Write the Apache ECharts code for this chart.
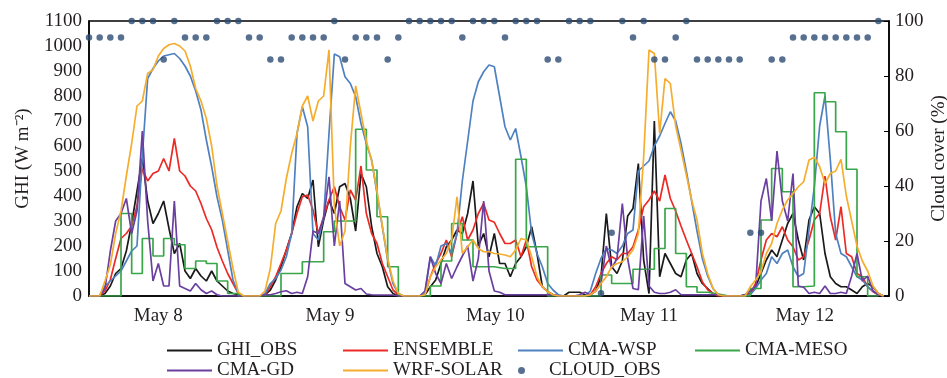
<!DOCTYPE html>
<html>
<head>
<meta charset="utf-8">
<script src="https://cdn.jsdelivr.net/npm/echarts@6/dist/echarts.min.js"></script>
<style>
html, body { margin: 0; padding: 0; background: #fff; }
#chart { width: 947px; height: 378px; }
</style>
</head>
<body>
<div id="chart"></div>
<script>
// x axis = hours counted from the start of the May 8 window (15 h shown per day)
var dayNames = ['May 8', 'May 9', 'May 10', 'May 11', 'May 12'];
var dayTicks = [6.5, 22.6, 38.1, 52.5, 67.1];

// half-hourly GHI, one line per day (W m-2)
var ghiObs = [
  0,0,0,10,40,90,110,180,290,420,550,380,290,330,380,270,170,210,100,70,110,80,60,100,60,40,20,10,5,0,
  0,0,0,5,24,64,117,184,250,357,410,390,464,197,304,384,330,437,450,390,260,490,437,277,170,117,37,10,0,0,
  0,0,0,5,37,64,130,197,224,264,250,330,460,200,250,157,250,130,130,77,130,157,197,277,170,37,17,5,0,0,
  15,15,15,5,5,20,77,330,117,90,140,320,350,530,144,10,700,77,170,130,90,77,144,170,90,50,30,10,5,0,
  0,0,0,5,10,37,90,144,184,157,224,290,330,224,144,304,357,330,170,77,50,37,37,24,10,37,50,37,10,0
];
var ensemble = [
  0,0,0,20,65,150,230,250,280,360,510,460,490,500,550,500,630,500,480,440,420,370,310,265,195,140,90,50,10,0,
  0,0,0,5,37,77,130,184,250,330,397,404,344,250,317,384,437,357,304,424,384,520,330,250,210,130,77,24,5,0,
  0,0,0,5,77,130,170,224,157,250,317,224,264,330,370,304,295,250,210,210,224,157,224,117,64,37,17,5,0,0,
  0,0,0,0,5,37,90,130,157,145,170,170,197,264,357,384,420,380,484,390,340,280,224,170,117,57,25,10,0,0,
  0,0,0,0,10,50,144,224,250,237,277,224,197,144,157,224,304,330,480,317,224,357,170,157,90,77,37,17,5,0
];
var cmaWsp = [
  0,0,0,40,60,80,100,140,180,200,560,870,910,940,960,965,970,950,920,880,820,744,624,517,397,304,184,64,10,0,
  0,0,0,10,50,70,104,157,250,650,757,677,250,224,317,650,968,957,877,850,797,690,610,544,410,277,144,50,10,0,
  0,0,0,10,157,120,200,210,170,250,460,620,780,857,897,924,917,797,677,624,670,557,437,250,170,117,50,24,5,0,
  0,0,0,0,20,90,150,190,184,170,200,250,264,500,520,540,600,640,690,737,700,610,500,380,260,150,80,30,5,0,
  0,0,0,0,5,30,64,90,157,130,170,184,117,77,90,264,437,680,800,544,250,170,157,117,77,64,37,20,5,0
];
var cmaGd = [
  0,0,0,30,180,300,330,390,250,340,660,300,60,130,40,40,380,40,30,20,50,25,10,20,5,0,0,0,0,0,
  0,0,0,5,5,10,17,21,10,15,10,77,260,250,310,477,200,380,50,37,24,30,8,5,4,4,4,4,0,0,
  0,0,0,20,157,90,50,130,70,117,160,200,60,150,380,100,20,15,5,5,5,5,5,5,5,5,5,5,0,0,
  0,0,5,15,5,20,50,200,110,150,370,150,30,25,320,40,15,10,10,15,25,5,5,5,5,5,5,5,5,0,
  0,0,0,5,20,40,380,470,300,580,380,300,490,40,35,10,15,10,40,10,10,15,10,80,170,60,80,20,5,0
];
var wrfSolar = [
  0,0,0,60,125,250,340,480,610,760,780,890,905,960,990,1005,1010,1000,980,920,830,780,710,600,440,330,220,110,15,0,
  0,0,0,20,110,290,340,470,570,650,760,800,700,780,800,985,360,200,260,600,840,730,620,540,420,280,150,60,10,0,
  0,0,0,5,77,117,144,170,224,397,170,197,224,190,177,177,170,168,164,157,184,230,224,157,77,37,17,5,0,0,
  0,0,0,0,5,20,50,77,117,130,137,157,184,250,557,984,970,650,870,850,680,584,484,384,304,171,90,30,5,0,
  0,0,0,0,37,64,97,170,210,290,344,384,410,437,457,544,555,517,450,490,500,547,400,300,200,140,100,40,10,0
];
// hourly
var cmaMeso = [
  0,0,0,330,90,230,160,230,205,110,140,130,60,10,0,
  0,0,0,90,90,137,137,257,300,300,667,504,317,117,0,
  0,0,40,140,290,224,117,117,110,110,547,197,197,0,0,
  0,0,0,84,50,50,107,107,190,350,170,37,15,8,0,
  0,0,30,304,510,417,37,40,813,777,657,507,77,0,0
];
var cloudObs = [
  94,94,94,94,100,100,100,86,100,94,94,94,100,100,100,
  94,94,86,86,94,94,94,94,100,86,94,94,94,86,94,
  100,100,100,100,100,94,100,100,100,94,100,100,100,86,86,
  100,100,100,1,23,100,94,100,86,86,94,100,86,86,86,
  86,86,23,23,86,86,94,94,94,94,94,94,94,94,100
];

var serif = 'Liberation Serif';
var ink = '#231f20';

function halfHourly(arr) {
  return arr.map(function (v, i) { return [i / 2, v]; });
}
function hourly(arr) {
  return arr.map(function (v, i) { return [i, v]; });
}
function lineSeries(name, color, data) {
  return {
    name: name, type: 'line', data: data, symbol: 'none',
    lineStyle: { color: color, width: 1.7 }, itemStyle: { color: color }
  };
}

var series = [
  lineSeries('GHI_OBS', '#1a1a1a', halfHourly(ghiObs)),
  lineSeries('ENSEMBLE', '#ec2a26', halfHourly(ensemble)),
  lineSeries('CMA-WSP', '#4f81c0', halfHourly(cmaWsp)),
  lineSeries('CMA-MESO', '#3aa64a', hourly(cmaMeso)),
  lineSeries('CMA-GD', '#6b3fa0', halfHourly(cmaGd)),
  lineSeries('WRF-SOLAR', '#f6ad2e', halfHourly(wrfSolar)),
  {
    name: 'CLOUD_OBS', type: 'scatter', yAxisIndex: 1, data: hourly(cloudObs),
    symbol: 'circle', symbolSize: 6.5, clip: false,
    itemStyle: { color: '#2d4c74' }, z: 5
  }
];
series[3].step = 'end';

// legend laid out as a 4-column grid
var legendSlots = [
  ['GHI_OBS', 167, 341], ['ENSEMBLE', 343, 341], ['CMA-WSP', 518, 341], ['CMA-MESO', 695, 341],
  ['CMA-GD', 167, 361], ['WRF-SOLAR', 343, 361], ['CLOUD_OBS', 518, 361]
];
var legends = legendSlots.map(function (s) {
  var isDot = s[0] === 'CLOUD_OBS';
  return {
    data: [{ name: s[0], icon: isDot ? 'circle' : 'rect' }],
    left: s[1], top: s[2], padding: 0,
    itemWidth: 45, itemHeight: isDot ? 7 : 2, itemGap: 0,
    textStyle: { fontFamily: serif, fontSize: 19, color: ink },
    selectedMode: false
  };
});

var chart = echarts.init(document.getElementById('chart'));
chart.setOption({
  animation: false,
  backgroundColor: '#fff',
  grid: {
    left: 89, right: 58, top: 21, bottom: 82, outerBoundsMode: 'none',
    show: true, borderColor: '#000', borderWidth: 1.5
  },
  legend: legends,
  xAxis: {
    type: 'value', min: 0, max: 75,
    axisLine: { lineStyle: { color: '#000', width: 1.5 } },
    axisTick: { show: false },
    splitLine: { show: false },
    axisLabel: {
      customValues: dayTicks,
      formatter: function (v) {
        var i = dayTicks.indexOf(v);
        return i >= 0 ? dayNames[i] : '';
      },
      fontFamily: serif, fontSize: 19, color: ink, margin: 11
    }
  },
  yAxis: [
    {
      type: 'value', min: 0, max: 1100, interval: 100,
      name: 'GHI (W m\u207b\u00b2)', nameLocation: 'middle', nameRotate: 90, nameGap: 56,
      nameMoveOverlap: false,
      nameTextStyle: { fontFamily: serif, fontSize: 19, color: ink },
      axisLine: { show: true, lineStyle: { color: '#000', width: 1.5 } },
      axisTick: { show: false },
      splitLine: { show: false },
      axisLabel: {
        fontFamily: serif, fontSize: 19, color: ink, margin: 7,
        formatter: function (v) { return String(v); }
      }
    },
    {
      type: 'value', min: 0, max: 100, interval: 20, position: 'right',
      name: 'Cloud cover (%)', nameLocation: 'middle', nameRotate: 90, nameGap: 41,
      nameMoveOverlap: false,
      nameTextStyle: { fontFamily: serif, fontSize: 19, color: ink },
      axisLine: { show: true, lineStyle: { color: '#000', width: 1.5 } },
      axisTick: { show: true, inside: true, length: 5, lineStyle: { color: '#000' } },
      splitLine: { show: false },
      axisLabel: {
        fontFamily: serif, fontSize: 19, color: ink, margin: 6,
        formatter: function (v) { return String(v); }
      }
    }
  ],
  series: series
});
</script>
</body>
</html>
